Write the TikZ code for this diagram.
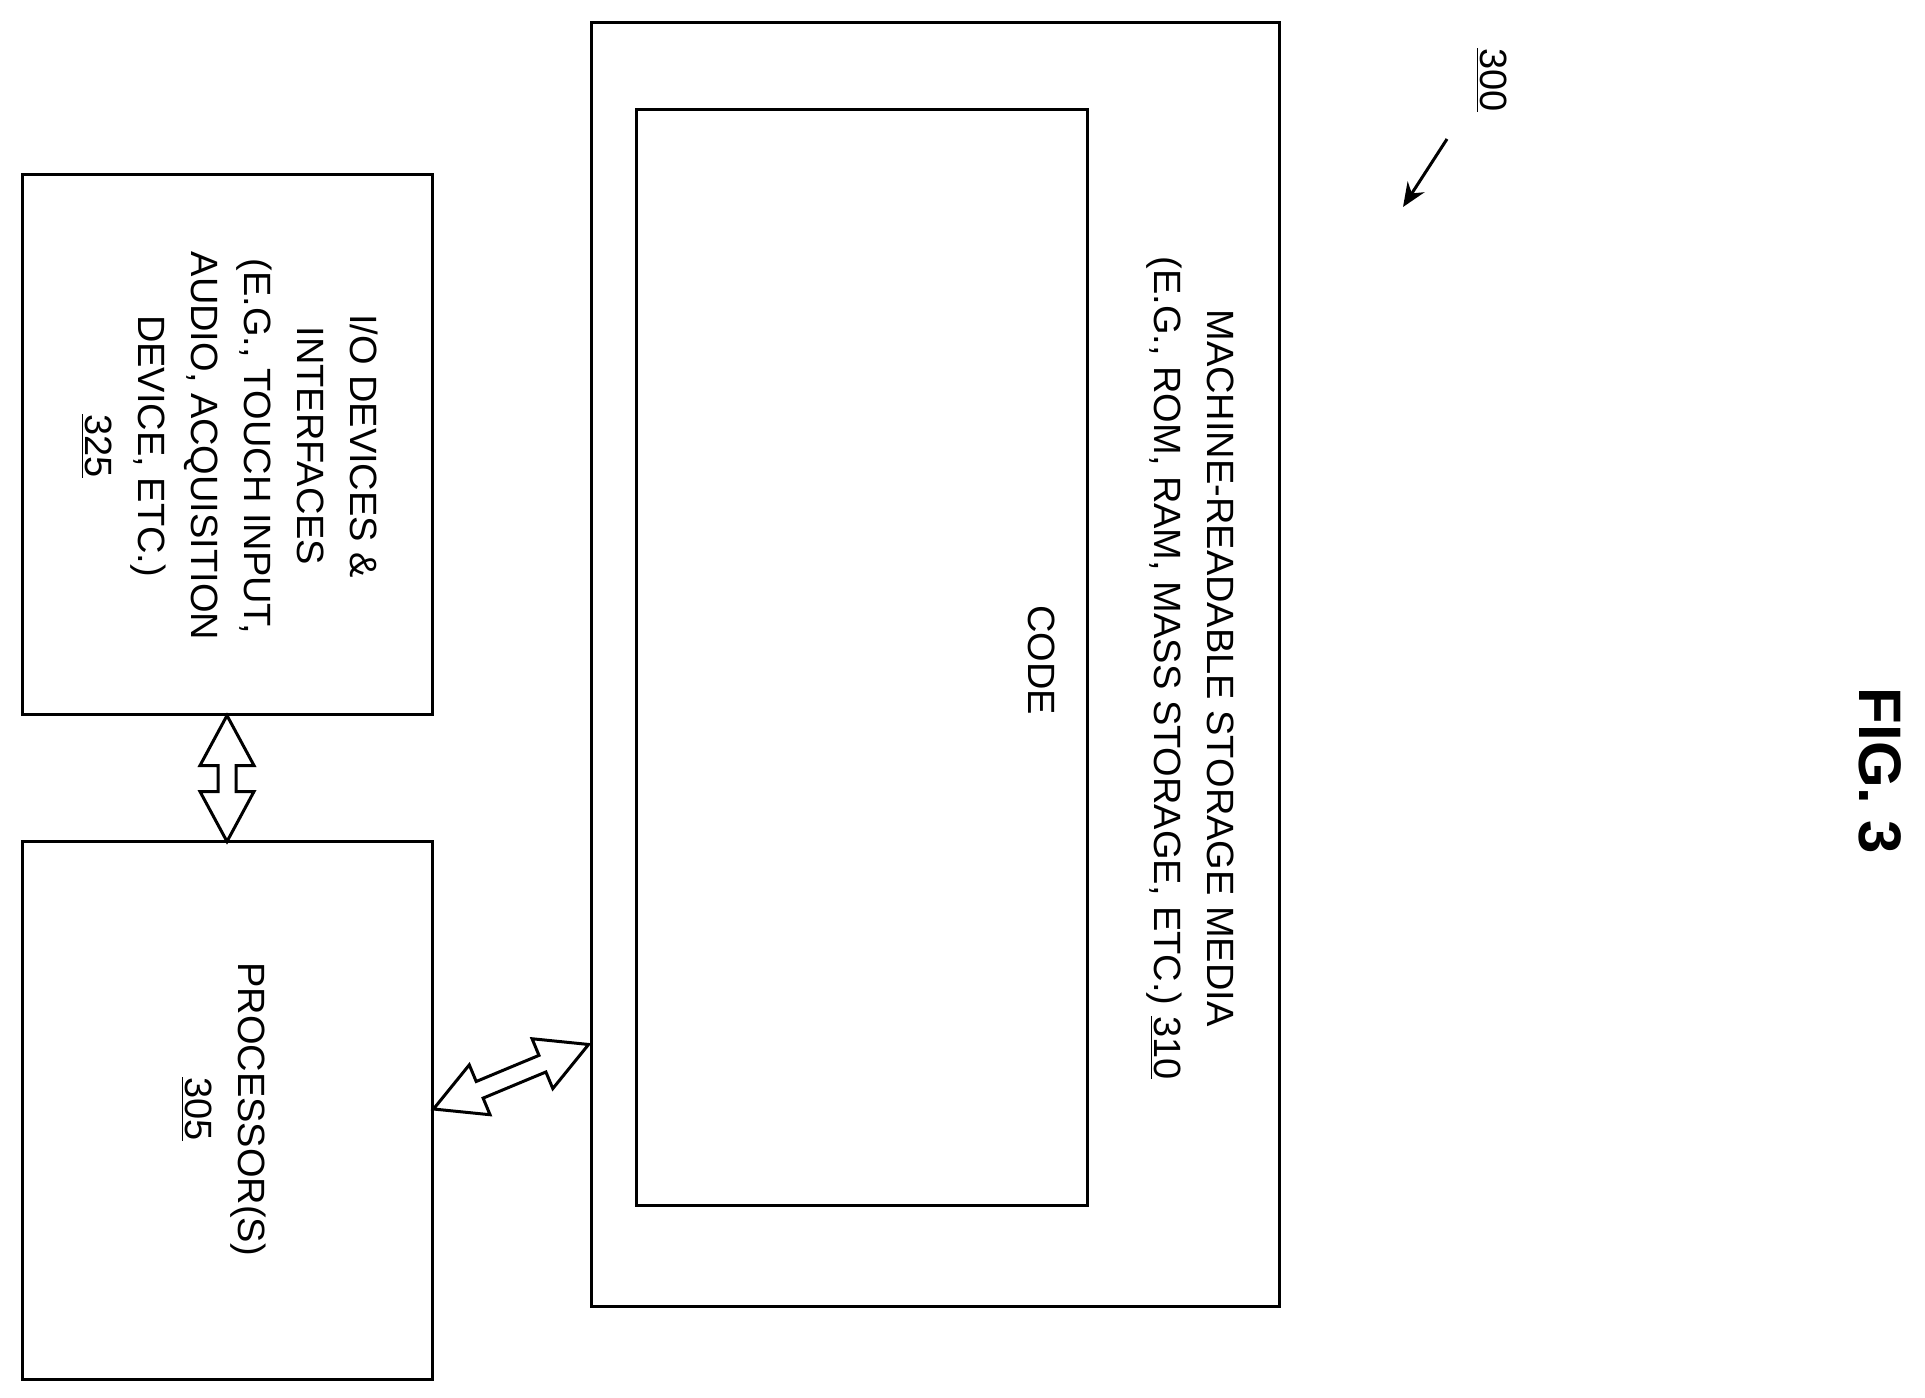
\documentclass[tikz,border=0pt]{standalone}
\usepackage{fontspec}
\setmainfont{Liberation Sans}
\usetikzlibrary{arrows.meta}
\begin{document}
\begin{tikzpicture}[x=0.5pt,y=-0.5pt,line width=1.5pt,
  box/.style={draw,inner sep=0pt},
  txt/.style={rotate=-90,align=center,font=\fontsize{19}{26.5}\selectfont}]
\useasboundingbox (0,0) rectangle (1925,1397);
\node[box,minimum width=344pt,minimum height=642pt] (mem) at (935,664) {};
\node[box,minimum width=225.5pt,minimum height=548pt] (code) at (862,657) {};
\node[box,minimum width=205pt,minimum height=270pt] (io) at (227,444) {};
\node[box,minimum width=205pt,minimum height=269pt] (proc) at (227,1110) {};
\node[txt] (memt) at (1190,668) {MACHINE-READABLE STORAGE MEDIA\\(E.G., ROM, RAM, MASS STORAGE, ETC.) \underline{310}};
\node[txt] (codet) at (1042,660) {CODE};
\node[txt] (iot) at (230,446) {I/O DEVICES \&\\INTERFACES\\(E.G., TOUCH INPUT,\\AUDIO, ACQUISITION\\DEVICE, ETC.)\\\underline{325}};
\node[txt] (proct) at (224,1109) {PROCESSOR(S)\\\underline{305}};
\node[rotate=-90,font=\fontsize{19}{24}\selectfont] (lbl) at (1492,80) {\underline{300}};
\coordinate (a1) at (1447,139);
\coordinate (a2) at (1403,207);
\draw[-{Stealth[length=12pt,width=10pt]}] (a1) -- (a2);
\node[rotate=-90,font=\fontsize{30}{36}\selectfont\bfseries] (fig) at (1880,771) {FIG. 3};
\tikzset{dbl/.pic={\draw (0,0)--(50,27)--(50,9)--(\L-50,9)--(\L-50,27)--(\L,0)--(\L-50,-27)--(\L-50,-9)--(50,-9)--(50,-27)--cycle;}}
\def\L{126}
\path (io.south) pic[rotate=-90] {dbl};
\def\L{168}
\path (proc.east |- 0,1109) coordinate (pe) pic[rotate=22.6] {dbl};
\end{tikzpicture}
\end{document}
